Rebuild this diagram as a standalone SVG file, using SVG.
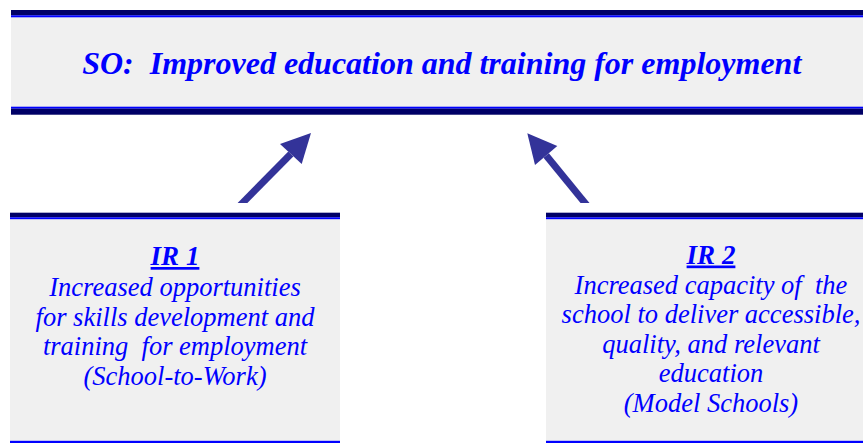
<svg xmlns="http://www.w3.org/2000/svg" width="863" height="443" viewBox="0 0 863 443">
  <style>
    .panel { fill: #f0f0f0; }
    .dark { fill: #000066; }
    .blue { fill: #0000ff; }
    .arrow { fill: #333399; }
    .t { fill: #0000ff; font-style: italic; text-anchor: middle; }
    .title { font-size: 32px; font-weight: bold; }
    .head { font-size: 27px; font-weight: bold; text-decoration: underline; }
    .body { font-size: 26.5px; }
  </style>
  <rect width="863" height="443" fill="#ffffff"/>
  <g id="so">
    <rect class="panel" x="11" y="10" width="852" height="105"/>
    <rect class="dark" x="11" y="10" width="852" height="5.3"/>
    <rect class="blue" x="11" y="15.3" width="852" height="2"/>
    <rect class="blue" x="11" y="106.7" width="852" height="2"/>
    <rect class="dark" x="11" y="108.7" width="852" height="6"/>
    <text class="t title" font-family="'Liberation Serif', serif" x="441.7" y="73.5" xml:space="preserve">SO:  Improved education and training for employment</text>
  </g>
  <g id="ir1" font-family="'Liberation Serif', serif">
    <rect class="panel" x="10" y="212.7" width="330" height="230.3"/>
    <rect class="dark" x="10" y="212.7" width="330" height="4.6"/>
    <rect class="blue" x="10" y="217.3" width="330" height="1.9"/>
    <rect class="blue" x="10" y="440.8" width="330" height="2.2"/>
    <text class="t head" x="175" y="265">IR 1</text>
    <text class="t body" x="175" y="296">Increased opportunities</text>
    <text class="t body" x="175" y="325.5">for skills development and</text>
    <text class="t body" x="175" y="355" xml:space="preserve">training  for employment</text>
    <text class="t body" x="175" y="384.5">(School-to-Work)</text>
  </g>
  <g id="ir2" font-family="'Liberation Serif', serif">
    <rect class="panel" x="546" y="212.7" width="317" height="230.3"/>
    <rect class="dark" x="546" y="212.7" width="317" height="4.6"/>
    <rect class="blue" x="546" y="217.3" width="317" height="1.9"/>
    <rect class="blue" x="546" y="440.8" width="317" height="2.2"/>
    <text class="t head" x="711" y="263.5">IR 2</text>
    <text class="t body" x="711" y="293.5" xml:space="preserve">Increased capacity of  the</text>
    <text class="t body" x="711" y="323">school to deliver accessible,</text>
    <text class="t body" x="711" y="352.5">quality, and relevant</text>
    <text class="t body" x="711" y="382">education</text>
    <text class="t body" x="711" y="411.5">(Model Schools)</text>
  </g>
  <g id="connectors">
    <polygon class="arrow" points="237.6,203 288.3,151.5 293.3,156.5 247.4,203"/>
    <polygon class="arrow" points="311,133 280,144 301.7,164"/>
    <polygon class="arrow" points="580.5,203 543.5,157.7 548.9,153.3 589.5,203"/>
    <polygon class="arrow" points="527.3,133.3 557.3,146 535,165"/>
  </g>
</svg>
